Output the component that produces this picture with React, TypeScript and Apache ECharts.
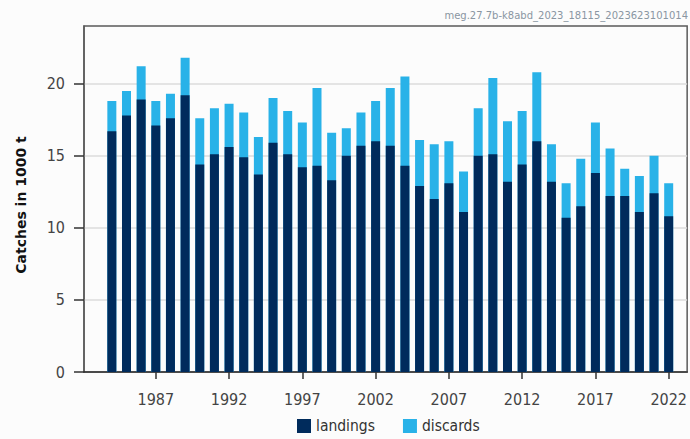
import React, { useEffect, useRef } from "react";
import * as echarts from "echarts";

const years = [
  1984, 1985, 1986, 1987, 1988, 1989, 1990, 1991, 1992, 1993, 1994, 1995, 1996,
  1997, 1998, 1999, 2000, 2001, 2002, 2003, 2004, 2005, 2006, 2007, 2008, 2009,
  2010, 2011, 2012, 2013, 2014, 2015, 2016, 2017, 2018, 2019, 2020, 2021, 2022,
];
const landings = [
  16.7, 17.8, 18.9, 17.1, 17.6, 19.2, 14.4, 15.1, 15.6, 14.9, 13.7, 15.9, 15.1,
  14.2, 14.3, 13.3, 15.0, 15.7, 16.0, 15.7, 14.3, 12.9, 12.0, 13.1, 11.1, 15.0,
  15.1, 13.2, 14.4, 16.0, 13.2, 10.7, 11.5, 13.8, 12.2, 12.2, 11.1, 12.4, 10.8,
];
const discards = [
  2.1, 1.7, 2.3, 1.7, 1.7, 2.6, 3.2, 3.2, 3.0, 3.1, 2.6, 3.1, 3.0,
  3.1, 5.4, 3.3, 1.9, 2.3, 2.8, 4.0, 6.2, 3.2, 3.8, 2.9, 2.8, 3.3,
  5.3, 4.2, 3.7, 4.8, 2.6, 2.4, 3.3, 3.5, 3.3, 1.9, 2.5, 2.6, 2.3,
];
const xTickYears = [1987, 1992, 1997, 2002, 2007, 2012, 2017, 2022];
const yTicks = [0, 5, 10, 15, 20];
const watermark = "meg.27.7b-k8abd_2023_18115_2023623101014";
const yTitle = "Catches in 1000 t";

const LAND = "#002b5c";
const DISC = "#29b2e8";
const FONT = "'Liberation Sans Narrow', 'DejaVu Sans Condensed', 'Liberation Sans', sans-serif";

export default function App() {
  const ref = useRef<HTMLDivElement>(null);
  useEffect(() => {
    document.body.style.margin = "0";
    const chart = echarts.init(ref.current!, null, { renderer: "svg" });
    chart.setOption({
      animation: false,
      backgroundColor: "#fcfcfc",
      grid: {
        left: 84,
        right: 2,
        top: 26,
        bottom: 67,
        show: true,
        borderColor: "#5a5a5a",
        borderWidth: 1.5,
        backgroundColor: "transparent",
      },
      xAxis: {
        type: "value",
        min: 1982.1,
        max: 2023.26,
        axisLine: { show: true, lineStyle: { color: "#222", width: 1.5 } },
        axisTick: {
          show: true,
          length: 7,
          customValues: xTickYears,
          lineStyle: { color: "#333", width: 1.5 },
        },
        axisLabel: {
          customValues: xTickYears,
          formatter: (v: number) => String(Math.round(v)),
          margin: 19,
          fontSize: 16,
          color: "#444",
          fontFamily: FONT,
        },
        splitLine: { show: false },
      },
      yAxis: {
        type: "value",
        min: 0,
        max: 24,
        name: yTitle,
        nameLocation: "middle",
        nameGap: 56,
        nameTextStyle: {
          fontFamily: "DejaVu Sans",
          fontWeight: "bold",
          fontSize: 14,
          color: "#111",
          padding: [0, 12, 0, 0],
        },
        axisLine: { show: true, lineStyle: { color: "#5a5a5a", width: 1.5 } },
        axisTick: {
          show: true,
          length: 10,
          customValues: yTicks,
          lineStyle: { color: "#333", width: 1.5 },
        },
        axisLabel: {
          customValues: yTicks,
          formatter: (v: number) => String(v),
          margin: 19,
          fontSize: 16,
          color: "#444",
          fontFamily: FONT,
        },
        splitLine: { show: true, lineStyle: { color: "#dcdcdc", width: 1.5 } },
      },
      legend: {
        data: ["landings", "discards"],
        left: 292,
        top: 413,
        itemWidth: 14,
        itemHeight: 14,
        itemGap: 28,
        icon: "rect",
        selectedMode: false,
        textStyle: { fontSize: 15.5, fontFamily: FONT, color: "#333" },
      },
      graphic: [
        {
          type: "text",
          right: 2,
          top: 10,
          style: {
            text: watermark,
            fontSize: 10,
            fontFamily: "DejaVu Sans",
            fill: "#8a96a2",
          },
        },
      ],
      series: [
        {
          name: "discards",
          type: "bar",
          data: years.map((y, i) => [y, landings[i] + discards[i]]),
          barWidth: 9,
          barGap: "-100%",
          itemStyle: { color: DISC },
          z: 2,
        },
        {
          name: "landings",
          type: "bar",
          data: years.map((y, i) => [y, landings[i]]),
          barWidth: 9,
          barGap: "-100%",
          itemStyle: { color: LAND },
          z: 3,
        },
      ],
    });
    return () => chart.dispose();
  }, []);
  return (
    <div
      ref={ref}
      style={{ position: "fixed", left: 0, top: 0, width: 690, height: 439 }}
    />
  );
}
